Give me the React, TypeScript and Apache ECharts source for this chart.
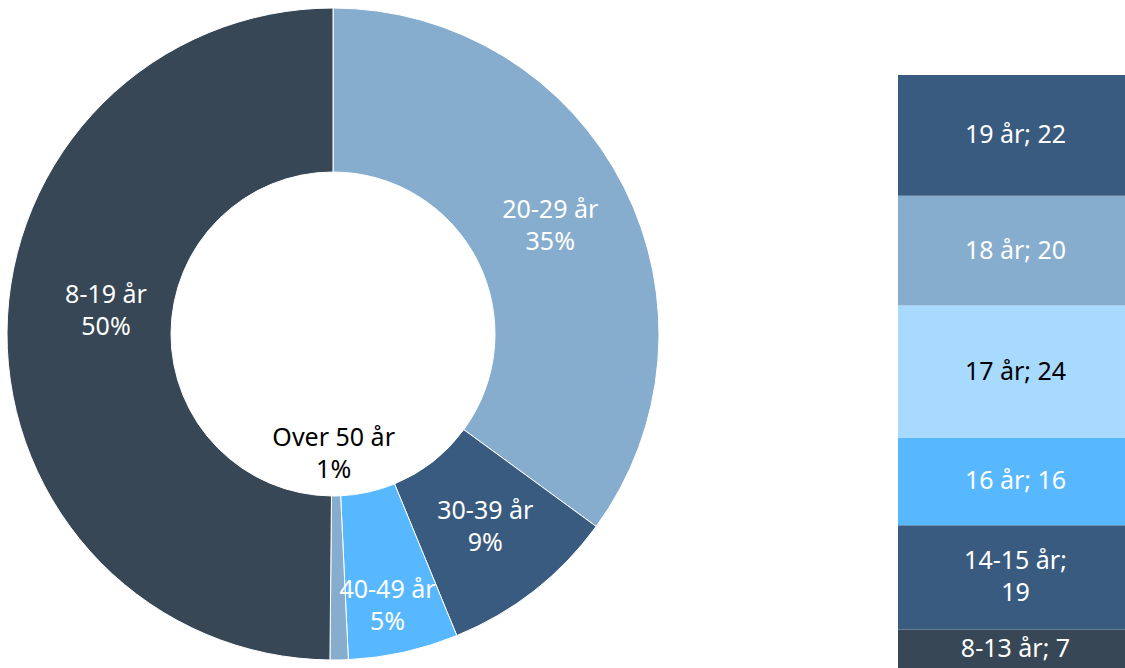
import React, { useEffect, useRef } from "react";
import * as echarts from "echarts";

const pieNames = ["20-29 år", "30-39 år", "40-49 år", "Over 50 år", "8-19 år"];
const pieValues = [35.05, 8.75, 5.45, 0.9, 49.85];
const pieColors = ["#87ADCE", "#3A5B80", "#58B8FF", "#87ADCE", "#374755"];
const pieLabelColors = ["#fff", "#fff", "#fff", "#000", "#fff"];
const pieLabelOffsets: [number, number][] = [[-3, 2], [0, -3], [1, 29], [-4, -129], [20, -24]];

const barNames = ["8-13 år", "14-15 år", "16 år", "17 år", "18 år", "19 år"];
const barValues = [7, 19, 16, 24, 20, 22];
const barColors = ["#374755", "#3A5B80", "#58B8FF", "#A8DAFF", "#87ADCE", "#3A5B80"];
const barLabelColors = ["#fff", "#fff", "#fff", "#000", "#fff", "#fff"];

const FONT = "Noto Sans";

export default function App() {
  const ref = useRef<HTMLDivElement>(null);
  useEffect(() => {
    if (!ref.current) return;
    const chart = echarts.init(ref.current, null, { renderer: "svg" });
    const total = barValues.reduce((a, b) => a + b, 0);
    chart.setOption({
      animation: false,
      backgroundColor: "#fff",
      textStyle: { fontFamily: FONT },
      grid: { left: 898, top: 75, width: 240, height: 600 },
      xAxis: { type: "category", data: ["A"], show: false },
      yAxis: { type: "value", min: 0, max: total, show: false },
      series: [
        {
          type: "pie",
          center: [333, 334],
          radius: [162, 326],
          startAngle: 90,
          clockwise: true,
          itemStyle: { borderColor: "#fff", borderWidth: 1 },
          label: {
            show: true,
            position: "inside",
            fontFamily: FONT,
            fontSize: 25,
            lineHeight: 32,
            formatter: (p: any) => `${p.name}\n${Math.round(p.value)}%`,
          },
          labelLine: { show: false },
          emphasis: { disabled: true },
          data: pieNames.map((n, i) => ({
            name: n,
            value: pieValues[i],
            itemStyle: { color: pieColors[i] },
            label: { color: pieLabelColors[i], offset: pieLabelOffsets[i] },
          })),
        },
        ...barNames.map((n, i) => ({
          type: "bar",
          name: n,
          stack: "s",
          barWidth: "100%",
          data: [barValues[i]],
          itemStyle: { color: barColors[i] },
          emphasis: { disabled: true },
          label: {
            show: true,
            position: "inside",
            offset: [4, -2],
            color: barLabelColors[i],
            fontFamily: FONT,
            fontSize: 25,
            lineHeight: 32,
            align: "center",
            formatter: (p: any) => {
              const s = `${p.seriesName}; ${p.value}`;
              return s.length > 10 ? `${p.seriesName};\n${p.value}` : s;
            },
          },
        })),
      ],
    });
    return () => chart.dispose();
  }, []);
  return (
    <div
      ref={ref}
      style={{ position: "absolute", left: 0, top: 0, width: 1125, height: 668 }}
    />
  );
}
